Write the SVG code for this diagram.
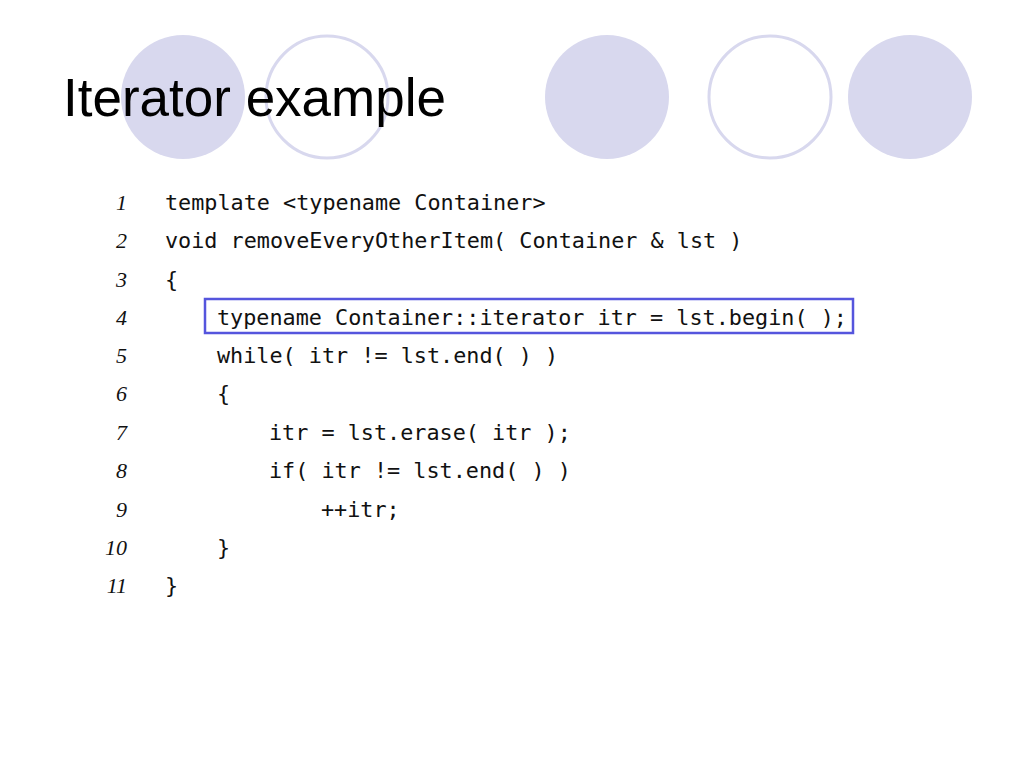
<svg xmlns="http://www.w3.org/2000/svg" width="1024" height="768" viewBox="0 0 1024 768">
<style>
.f{fill:#d8d8ee}
.o{fill:#fff;stroke:#d8d8ee;stroke-width:3}
.c{font-family:"DejaVu Sans Mono","Liberation Mono",monospace;font-size:21.8px;fill:#111}
.n{font-family:"Liberation Serif",serif;font-style:italic;font-size:22px;fill:#111;text-anchor:end}
</style>
<rect width="1024" height="768" fill="#fff"/>
<circle class="f" cx="183" cy="97" r="62"/>
<circle class="o" cx="327" cy="97" r="61"/>
<circle class="f" cx="607" cy="97" r="62"/>
<circle class="o" cx="770" cy="97" r="61"/>
<circle class="f" cx="910" cy="97" r="62"/>
<text x="63" y="116" font-family="Liberation Sans,Arial,sans-serif" font-size="53" fill="#000">Iterator example</text>
<rect x="205" y="299" width="648" height="34" fill="none" stroke="#5555dd" stroke-width="2.5"/>
<g class="n">
<text x="127" y="210">1</text><text x="127" y="248">2</text><text x="127" y="287">3</text><text x="127" y="325">4</text><text x="127" y="363">5</text><text x="127" y="401">6</text><text x="127" y="440">7</text><text x="127" y="478">8</text><text x="127" y="517">9</text><text x="127" y="555">10</text><text x="127" y="593">11</text>
</g>
<g class="c">
<text x="165" y="210">template &lt;typename Container&gt;</text>
<text x="165" y="248">void removeEveryOtherItem( Container &amp; lst )</text>
<text x="165" y="287">{</text>
<text x="217" y="325">typename Container::iterator itr = lst.begin( );</text>
<text x="217" y="363">while( itr != lst.end( ) )</text>
<text x="217" y="401">{</text>
<text x="269" y="440">itr = lst.erase( itr );</text>
<text x="269" y="478">if( itr != lst.end( ) )</text>
<text x="321" y="517">++itr;</text>
<text x="217" y="555">}</text>
<text x="165" y="593">}</text>
</g>
</svg>
